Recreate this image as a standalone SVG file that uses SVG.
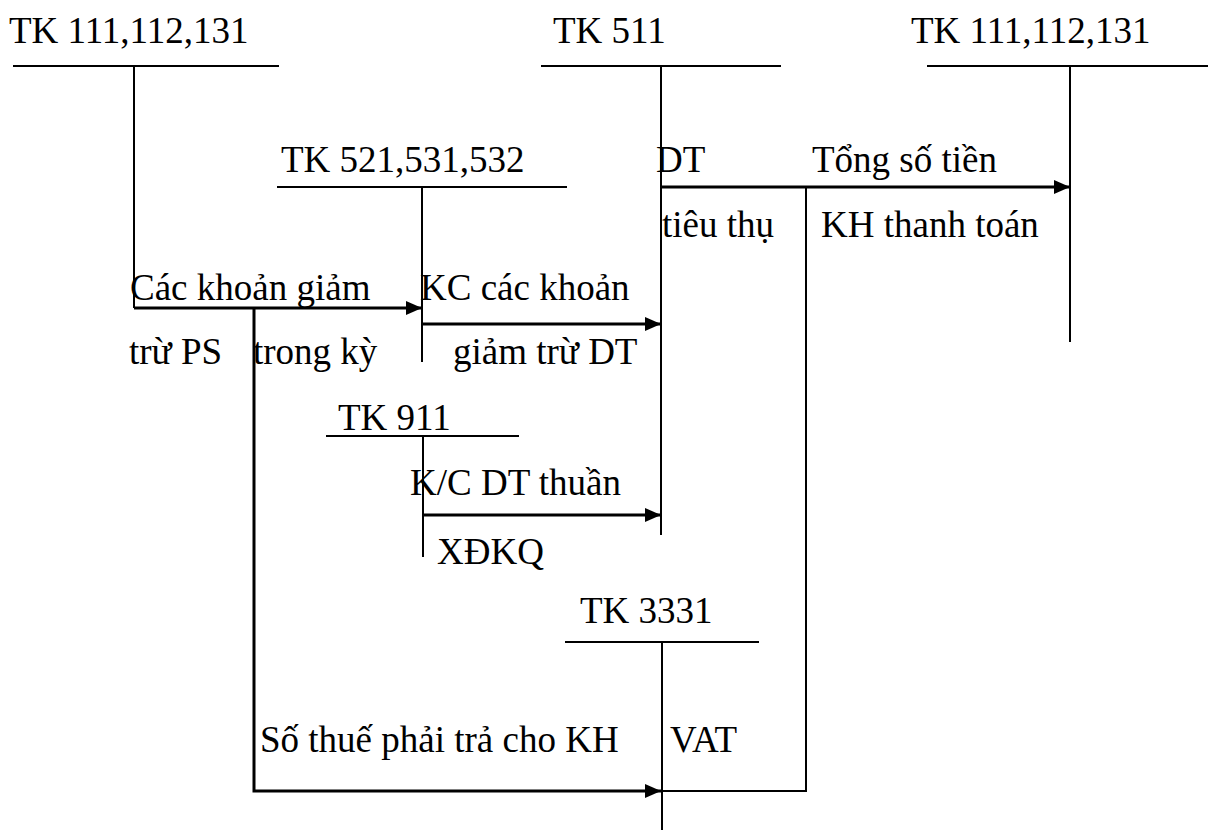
<svg xmlns="http://www.w3.org/2000/svg" width="1208" height="830" viewBox="0 0 1208 830">
<style>
text{font-family:"Liberation Serif","Times New Roman",serif;font-size:37px;fill:#000}
.ln{stroke:#000;stroke-width:2;fill:none}
.cn{stroke:#000;stroke-width:3;fill:none}
</style>
<defs>
<marker id="arr" viewBox="0 0 16 14" refX="16" refY="7" markerWidth="16" markerHeight="14" markerUnits="userSpaceOnUse" orient="auto">
<path d="M0,0 L16,7 L0,14 z" fill="#000"/>
</marker>
</defs>
<rect width="1208" height="830" fill="#fff"/>
<g id="tk111-left">
<text x="9" y="43">TK 111,112,131</text>
<line class="ln" x1="13" y1="66" x2="279" y2="66"/>
<line class="ln" x1="134" y1="66" x2="134" y2="308"/>
</g>
<g id="tk511">
<text x="553" y="43">TK 511</text>
<line class="ln" x1="541" y1="66" x2="781" y2="66"/>
<line class="ln" x1="661" y1="66" x2="661" y2="535"/>
</g>
<g id="tk111-right">
<text x="911" y="43">TK 111,112,131</text>
<line class="ln" x1="927" y1="66" x2="1208" y2="66"/>
<line class="ln" x1="1070" y1="66" x2="1070" y2="342"/>
</g>
<g id="tk521">
<text x="281" y="172">TK 521,531,532</text>
<line class="ln" x1="277" y1="187" x2="567" y2="187"/>
<line class="ln" x1="422" y1="187" x2="422" y2="362"/>
</g>
<g id="tk911">
<text x="338" y="430">TK 911</text>
<line class="ln" x1="326" y1="436" x2="519" y2="436"/>
<line class="ln" x1="423" y1="436" x2="423" y2="557"/>
</g>
<g id="tk3331">
<text x="580" y="623">TK 3331</text>
<line class="ln" x1="565" y1="642" x2="759" y2="642"/>
<line class="ln" x1="662" y1="642" x2="662" y2="830"/>
</g>
<g id="connectors">
<path class="cn" d="M134,308 H422" marker-end="url(#arr)"/>
<path class="cn" d="M254,308 V791 H661" marker-end="url(#arr)"/>
<path class="cn" d="M422,324 H661" marker-end="url(#arr)"/>
<path class="cn" d="M423,515 H661" marker-end="url(#arr)"/>
<path class="cn" d="M661,187 H1070" marker-end="url(#arr)"/>
<path class="ln" d="M806,187 V791 H662"/>
<text x="130" y="300">Các khoản giảm</text>
<text x="129" y="364">trừ PS</text>
<text x="253" y="364">trong kỳ</text>
<text x="420" y="300">KC các khoản</text>
<text x="453" y="364">giảm trừ DT</text>
<text x="656" y="172">DT</text>
<text x="662" y="237">tiêu thụ</text>
<text x="812" y="172">Tổng số tiền</text>
<text x="821" y="237">KH thanh toán</text>
<text x="410" y="495">K/C DT thuần</text>
<text x="437" y="564">XĐKQ</text>
<text x="260" y="752">Số thuế phải trả cho KH</text>
<text x="670" y="752">VAT</text>
</g>
</svg>
